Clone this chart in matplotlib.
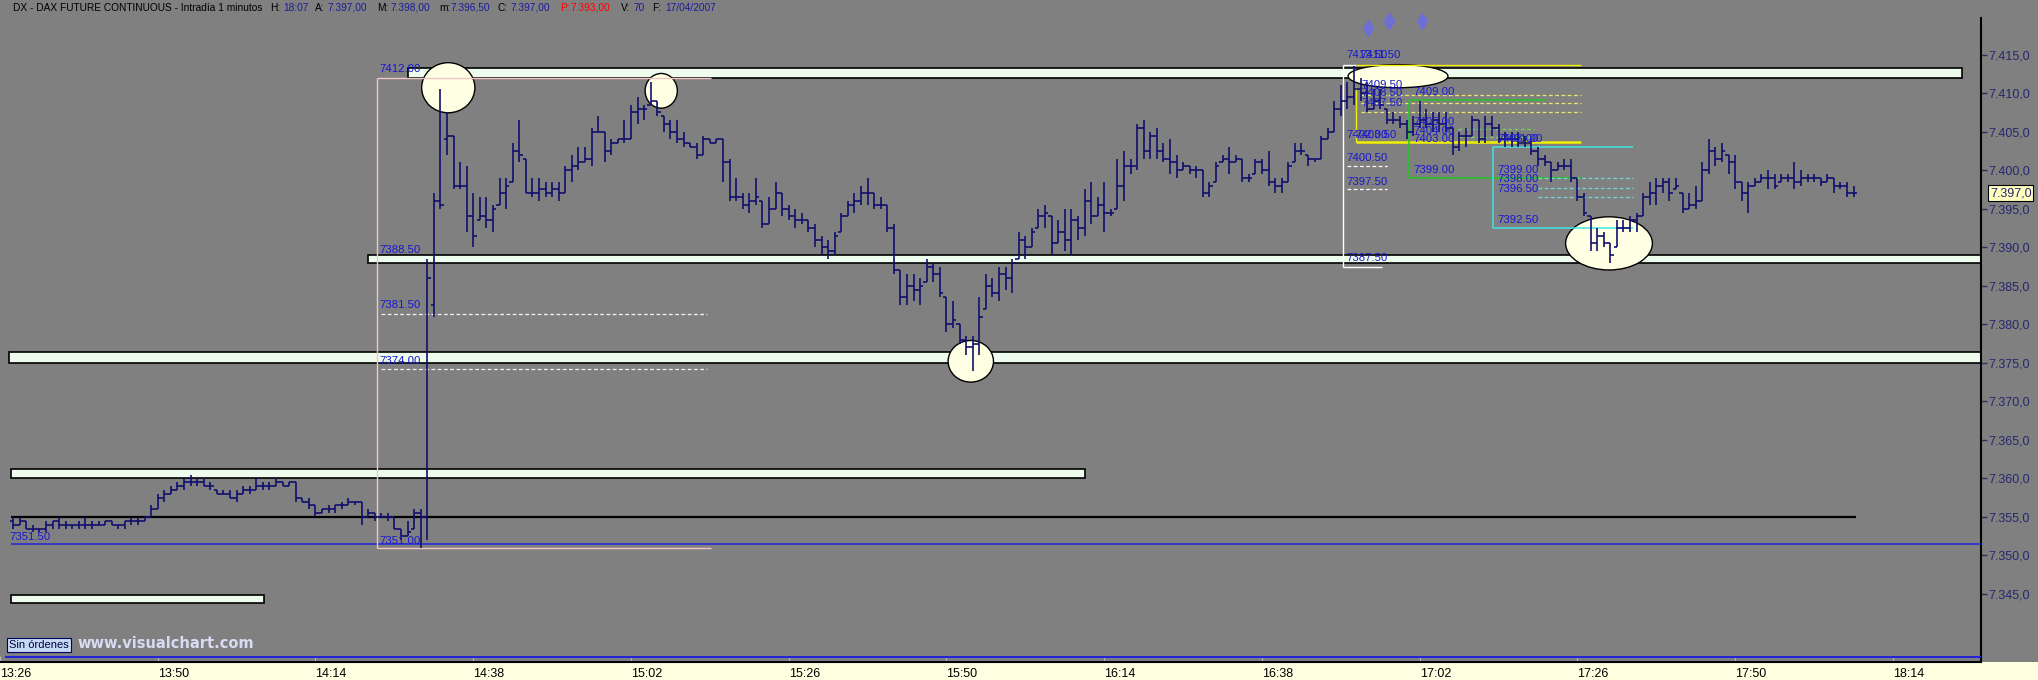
import numpy as np
import matplotlib
matplotlib.use("Agg")
import matplotlib.pyplot as plt
from matplotlib.patches import Rectangle, Ellipse
from matplotlib import font_manager
from matplotlib.ticker import FuncFormatter
from matplotlib.transforms import blended_transform_factory

# ---------------- DATA ----------------
SESSION_ORIGIN = "13:26"     # x = minutes after this time
BAR_START = "13:28"          # first 1-minute bar

OPEN = [
 7354.5,7354.0,7354.5,7353.5,7353.5,7353.5,7354.0,7354.5,7354.0,7354.0,
 7354.0,7354.0,7354.0,7354.0,7354.0,7354.5,7354.0,7354.0,7354.5,7354.5,
 7354.5,7355.0,7356.0,7357.5,7358.0,7358.5,7359.0,7359.5,7359.5,7359.5,
 7359.0,7358.5,7358.0,7358.0,7357.5,7358.0,7358.5,7358.5,7359.0,7359.0,
 7359.0,7359.5,7359.0,7359.5,7357.5,7357.0,7356.5,7355.5,7356.0,7356.0,
 7356.5,7356.5,7357.0,7357.0,7355.0,7355.5,7355.0,7355.0,7355.0,7353.5,
 7352.5,7353.5,7355.5,7355.0,7382.5,7396.0,7404.0,7404.5,7398.0,7398.0,
 7394.0,7393.5,7394.0,7393.5,7395.5,7397.0,7398.5,7402.5,7401.5,7397.0,
 7397.0,7397.5,7397.0,7397.5,7397.0,7400.0,7400.5,7401.0,7401.5,7405.0,
 7405.0,7402.5,7403.5,7404.0,7404.0,7407.5,7408.0,7408.5,7409.0,7407.0,
 7406.0,7405.0,7404.0,7403.5,7403.0,7402.0,7404.0,7403.5,7404.0,7401.0,
 7396.5,7396.5,7395.5,7396.0,7396.0,7393.0,7395.0,7397.0,7395.0,7394.0,
 7393.5,7393.5,7392.5,7391.0,7390.0,7389.5,7392.0,7394.0,7395.5,7396.0,
 7397.0,7397.0,7395.5,7395.5,7392.5,7387.0,7383.5,7385.0,7384.5,7385.5,
 7387.5,7386.5,7383.5,7380.0,7380.0,7378.0,7377.0,7377.5,7382.0,7385.0,
 7384.0,7386.5,7386.0,7388.5,7391.0,7390.0,7392.5,7394.0,7394.0,7390.5,
 7392.0,7391.0,7393.5,7392.5,7396.0,7394.0,7395.5,7394.5,7395.0,7398.0,
 7400.5,7400.5,7405.5,7402.5,7404.5,7402.5,7401.5,7401.0,7400.0,7400.5,
 7400.0,7400.0,7397.0,7398.5,7401.0,7401.5,7401.0,7401.5,7399.0,7399.5,
 7401.0,7400.0,7398.5,7398.0,7398.5,7401.0,7402.5,7402.0,7401.5,7401.5,
 7404.0,7405.0,7408.0,7409.0,7409.5,7410.5,7410.0,7408.0,7409.0,7408.0,
 7406.5,7406.5,7406.0,7405.0,7406.0,7406.5,7406.0,7406.5,7406.0,7405.5,
 7403.0,7404.5,7404.5,7406.5,7404.0,7406.0,7405.5,7404.0,7404.0,7404.0,
 7403.5,7403.5,7402.5,7401.5,7401.0,7400.0,7400.5,7400.5,7399.0,7396.5,
 7394.0,7390.5,7391.5,7390.5,7390.0,7392.5,7392.5,7393.5,7394.0,7396.5,
 7397.0,7398.0,7398.5,7397.5,7397.0,7395.0,7395.5,7396.0,7400.0,7402.5,
 7401.5,7402.0,7401.0,7398.5,7397.0,7398.0,7398.5,7399.0,7399.0,7398.5,
 7399.0,7399.0,7398.5,7399.0,7399.0,7399.0,7398.5,7399.0,7398.0,7398.0,7397.0]

HIGH = [
 7355.0,7355.0,7354.5,7354.0,7353.5,7354.5,7354.5,7355.0,7354.5,7354.0,
 7354.5,7355.0,7354.5,7354.5,7354.5,7354.5,7354.0,7354.5,7355.0,7355.0,
 7355.0,7356.5,7358.0,7358.5,7359.0,7359.5,7360.0,7360.5,7360.0,7360.0,
 7359.5,7358.5,7358.5,7358.5,7358.5,7359.0,7359.0,7360.0,7359.5,7359.5,
 7360.0,7359.5,7359.5,7359.5,7357.5,7357.5,7356.5,7356.0,7356.5,7356.5,
 7357.0,7357.5,7357.0,7357.0,7356.0,7355.5,7355.5,7355.5,7355.0,7353.5,
 7354.5,7356.0,7356.0,7388.5,7397.0,7410.5,7407.5,7404.5,7401.0,7400.5,
 7397.0,7396.5,7396.5,7395.5,7399.0,7399.0,7403.5,7406.5,7401.5,7399.0,
 7399.0,7398.5,7398.5,7398.5,7400.5,7402.0,7403.0,7403.0,7405.5,7407.0,
 7405.0,7404.0,7404.0,7406.5,7408.5,7409.5,7408.5,7411.5,7409.0,7407.0,
 7406.5,7406.5,7405.0,7403.5,7403.5,7404.5,7404.0,7404.0,7404.0,7401.5,
 7399.0,7397.0,7397.0,7399.0,7396.0,7396.5,7398.5,7397.0,7395.5,7395.0,
 7394.5,7393.5,7393.0,7391.5,7391.0,7392.0,7394.5,7396.0,7397.0,7398.0,
 7399.0,7397.0,7396.5,7395.5,7393.0,7387.0,7386.5,7386.5,7386.0,7388.5,
 7388.0,7387.5,7383.5,7383.0,7380.0,7378.5,7378.5,7383.5,7386.5,7386.0,
 7387.5,7387.5,7388.5,7392.0,7391.5,7392.5,7395.0,7395.5,7394.0,7393.5,
 7395.0,7395.0,7394.0,7397.5,7398.5,7396.5,7398.5,7395.0,7401.5,7402.5,
 7401.5,7406.0,7406.5,7405.0,7405.5,7403.5,7404.0,7402.0,7401.0,7400.5,
 7400.5,7400.0,7398.5,7401.0,7402.0,7403.0,7402.0,7401.5,7399.5,7401.5,
 7401.5,7402.5,7399.0,7399.0,7401.0,7403.5,7403.5,7402.0,7401.5,7404.5,
 7405.5,7409.0,7411.0,7411.5,7413.5,7412.0,7411.5,7410.5,7410.5,7408.0,
 7407.5,7407.0,7406.5,7407.0,7409.0,7408.0,7407.5,7407.5,7407.5,7405.5,
 7405.0,7405.5,7407.0,7406.5,7407.0,7407.0,7406.0,7405.0,7405.0,7405.0,
 7404.5,7404.0,7403.0,7402.0,7401.0,7401.0,7401.5,7401.5,7399.0,7397.0,
 7394.0,7392.5,7392.0,7390.5,7393.5,7393.5,7394.0,7394.5,7397.0,7398.5,
 7399.0,7399.0,7399.0,7399.0,7397.0,7397.0,7398.0,7401.0,7404.0,7403.0,
 7403.5,7402.0,7402.0,7398.5,7398.5,7399.0,7399.5,7400.0,7399.5,7399.5,
 7399.5,7401.0,7400.0,7399.5,7399.5,7399.0,7399.5,7399.0,7398.5,7398.5,7398.0]

LOW = [
 7353.5,7354.0,7353.5,7353.0,7353.0,7353.0,7353.5,7353.5,7353.5,7353.5,
 7353.5,7353.5,7353.5,7354.0,7354.0,7354.0,7353.5,7353.5,7354.0,7354.0,
 7354.5,7355.0,7356.0,7357.0,7358.0,7358.5,7358.5,7359.0,7359.0,7359.0,
 7358.5,7358.0,7358.0,7357.5,7357.0,7358.0,7358.0,7358.5,7358.5,7358.5,
 7359.0,7359.0,7359.0,7357.0,7357.0,7356.0,7355.0,7355.5,7355.5,7355.5,
 7356.0,7356.5,7356.5,7354.0,7355.0,7354.5,7355.0,7354.5,7353.5,7352.0,
 7352.5,7353.5,7351.0,7352.0,7381.0,7395.0,7402.0,7397.5,7397.5,7392.0,
 7390.0,7393.5,7392.5,7392.0,7395.5,7395.0,7398.5,7401.0,7397.0,7396.5,
 7396.0,7396.5,7396.5,7396.0,7397.0,7398.5,7400.0,7401.0,7400.5,7405.0,
 7401.0,7402.0,7403.5,7403.5,7404.0,7406.0,7406.5,7408.5,7407.0,7405.0,
 7404.0,7403.5,7403.0,7403.0,7401.5,7402.0,7403.5,7403.5,7398.5,7396.0,
 7396.0,7395.0,7394.5,7395.5,7392.5,7393.0,7395.0,7394.0,7393.5,7392.5,
 7393.0,7392.0,7390.0,7389.0,7388.5,7389.0,7392.0,7394.0,7394.5,7395.5,
 7395.5,7395.0,7395.0,7392.0,7386.5,7382.5,7382.5,7383.0,7382.5,7385.5,
 7385.5,7383.5,7379.0,7379.5,7377.5,7376.0,7374.0,7376.0,7382.0,7383.5,
 7383.0,7384.5,7384.0,7388.5,7388.5,7390.0,7392.5,7392.5,7389.0,7390.5,
 7389.5,7389.0,7391.0,7391.5,7393.0,7394.0,7392.0,7394.0,7395.0,7396.0,
 7399.5,7400.0,7401.5,7401.5,7401.5,7401.0,7399.5,7399.0,7400.0,7399.5,
 7399.0,7396.5,7396.5,7398.5,7401.0,7399.5,7401.0,7398.5,7398.5,7399.5,
 7399.5,7398.0,7397.0,7397.0,7398.5,7401.0,7402.0,7400.5,7401.0,7401.5,
 7404.0,7405.0,7407.0,7408.0,7408.5,7409.0,7407.5,7408.0,7408.0,7406.0,
 7406.0,7405.5,7404.0,7404.5,7405.5,7405.5,7405.0,7405.0,7405.0,7402.0,
 7402.5,7403.0,7404.5,7403.5,7403.5,7404.5,7403.5,7403.0,7403.0,7403.0,
 7403.0,7402.0,7400.5,7400.5,7398.5,7400.0,7400.0,7398.5,7396.0,7394.0,
 7389.5,7389.5,7390.0,7388.0,7390.0,7392.0,7392.0,7392.0,7394.0,7395.5,
 7395.5,7397.0,7396.0,7397.5,7394.5,7395.0,7395.0,7396.0,7399.5,7400.5,
 7401.0,7399.5,7397.5,7396.0,7394.5,7398.0,7398.5,7397.5,7397.5,7398.5,
 7398.5,7397.5,7398.0,7398.5,7398.5,7398.0,7398.5,7397.0,7397.5,7396.5,7396.5]

CLOSE = [
 7354.0,7354.5,7353.5,7353.5,7353.5,7354.0,7354.5,7354.0,7354.0,7354.0,
 7354.0,7354.0,7354.0,7354.0,7354.5,7354.0,7354.0,7354.5,7354.5,7354.5,
 7355.0,7356.0,7357.5,7358.0,7358.5,7359.0,7359.5,7359.5,7359.5,7359.0,
 7359.0,7358.0,7358.0,7357.5,7358.0,7358.5,7358.5,7359.0,7359.0,7359.0,
 7359.5,7359.0,7359.5,7357.5,7357.0,7356.5,7355.5,7356.0,7356.0,7356.5,
 7356.5,7357.0,7357.0,7355.0,7355.5,7355.0,7355.0,7355.0,7353.5,7352.5,
 7353.0,7355.5,7355.0,7386.0,7396.0,7395.5,7404.5,7398.0,7398.0,7394.0,
 7391.5,7394.0,7393.5,7395.0,7397.0,7398.0,7402.5,7402.0,7397.0,7397.0,
 7397.5,7397.0,7397.5,7397.0,7400.0,7400.5,7401.0,7401.5,7405.0,7405.0,
 7402.5,7403.5,7404.0,7404.0,7407.5,7408.0,7408.0,7409.0,7407.5,7406.0,
 7405.0,7404.0,7403.5,7403.0,7402.0,7404.0,7403.5,7404.0,7401.0,7396.5,
 7396.5,7395.5,7396.0,7396.5,7393.0,7395.0,7397.0,7395.0,7394.0,7393.5,
 7393.5,7392.5,7391.0,7390.0,7389.5,7391.5,7394.0,7395.5,7396.0,7397.0,
 7397.0,7395.5,7395.5,7392.5,7387.0,7383.5,7385.0,7384.5,7385.0,7387.5,
 7386.5,7384.0,7380.0,7380.5,7378.0,7377.0,7377.5,7381.0,7385.0,7384.0,
 7386.5,7386.0,7388.0,7391.0,7390.0,7392.0,7394.0,7394.5,7390.5,7392.0,
 7391.0,7393.5,7392.5,7396.0,7394.0,7395.5,7394.5,7394.5,7398.0,7400.5,
 7400.5,7405.5,7402.5,7404.5,7402.5,7401.5,7401.0,7400.0,7400.5,7400.0,
 7400.0,7397.0,7398.0,7400.5,7401.5,7401.0,7401.5,7399.0,7399.0,7401.0,
 7400.0,7398.5,7398.0,7398.5,7400.5,7402.5,7402.5,7401.5,7401.5,7404.0,
 7405.0,7408.0,7409.0,7409.5,7410.5,7410.0,7408.0,7409.0,7408.5,7406.5,
 7406.5,7406.0,7405.0,7406.0,7406.5,7406.0,7406.5,7406.0,7405.5,7403.0,
 7404.5,7404.5,7406.5,7404.0,7406.0,7405.5,7404.0,7404.0,7404.0,7403.5,
 7403.5,7402.5,7401.5,7401.0,7400.0,7400.5,7400.5,7399.0,7396.5,7394.5,
 7390.5,7391.5,7390.5,7389.0,7392.5,7392.5,7393.5,7394.0,7396.5,7397.0,
 7398.0,7398.5,7397.0,7398.0,7395.0,7395.5,7396.0,7400.0,7402.5,7401.5,
 7402.5,7401.0,7398.5,7397.0,7398.0,7398.5,7399.0,7399.0,7398.0,7399.0,
 7399.0,7398.5,7399.0,7399.0,7399.0,7398.5,7399.0,7398.0,7398.0,7397.0,7397.0]

XTICK_LABELS = ["13:26", "13:50", "14:14", "14:38", "15:02", "15:26", "15:50",
                "16:14", "16:38", "17:02", "17:26", "17:50", "18:14"]
YTICKS = [7345, 7350, 7355, 7360, 7365, 7370, 7375, 7380, 7385, 7390,
          7395, 7400, 7405, 7410, 7415]
LAST_PRICE = 7397.0

# support/resistance zones: (start min, end min or None = to right edge, low, high)
ZONES = [(62.0, 298.5, 7412.0, 7413.2),
         (56.0, None, 7388.0, 7389.0),
         (1.4, None, 7375.0, 7376.4),
         (1.6, 165.1, 7360.0, 7361.2),
         (1.6, 40.1, 7343.8, 7344.9)]
# highlighted spots: (minute, price, width in min, height in points)
SPOTS = [(68.2, 7410.7, 8.1, 6.5),
         (100.6, 7410.3, 4.9, 4.5),
         (147.7, 7375.2, 6.9, 5.4),
         (212.7, 7412.2, 15.2, 3.0),
         (244.8, 7390.5, 13.2, 6.9)]
BLACK_LEVEL = (1.6, 282.4, 7355.0)
BLUE_LEVEL = (1.6, 7351.5)
BOTTOM_LEVEL = 7336.8

# retracement boxes (horizontal: x0, x1, price ; vertical: x, p0, p1)
PINK_H = [(57.4, 108.2, 7412.0), (57.4, 108.2, 7351.0)]
PINK_V = [(57.4, 7351.0, 7412.0)]
WHITE_DASH_L = [(58.0, 107.5, 7381.4), (58.0, 107.5, 7374.2)]
WHITE_H = [(204.4, 206.3, 7413.6), (204.4, 210.2, 7387.5)]
WHITE_V = [(204.4, 7387.5, 7413.6)]
WHITE_DASH_R = [(205.0, 211.0, 7400.5), (205.0, 211.0, 7397.5)]
YELLOW_H = [(206.3, 240.6, 7413.6), (206.3, 240.5, 7403.6)]
YELLOW_V = [(206.3, 7403.6, 7410.8)]
YELLOW_DASH = [(207.0, 240.5, 7409.8), (207.0, 240.5, 7408.7), (207.0, 240.5, 7407.5)]
GREEN_H = [(214.4, 235.0, 7409.1), (214.4, 240.5, 7399.0)]
GREEN_V = [(214.4, 7399.0, 7409.1)]
GREEN_DASH = [(221.8, 233.4, 7405.4), (221.8, 233.4, 7404.3)]
CYAN_H = [(227.2, 248.4, 7403.0), (227.2, 248.4, 7392.5)]
CYAN_V = [(227.2, 7392.5, 7403.0)]
CYAN_DASH = [(234.0, 248.4, 7399.0), (234.0, 248.4, 7397.7), (234.0, 248.4, 7396.5)]

# level captions: (minute, price, text)
LEVEL_TEXTS = [(57.7, 7413.1, "7412.00"), (57.7, 7389.7, "7388.50"),
               (57.7, 7382.5, "7381.50"), (57.7, 7375.3, "7374.00"),
               (57.7, 7351.9, "7351.00"), (1.5, 7352.4, "7351.50"),
               (204.9, 7414.9, "7413.50"), (207.0, 7414.9, "7411.50"),
               (207.2, 7411.1, "7409.50"), (207.2, 7410.0, "7408.50"),
               (207.2, 7408.7, "7407.50"), (215.0, 7410.2, "7409.00"),
               (215.0, 7406.3, "7405.00"), (215.0, 7405.1, "7404.00"),
               (215.0, 7404.0, "7403.00"), (204.9, 7404.6, "7402.00"),
               (206.2, 7404.6, "7403.50"), (204.9, 7401.6, "7400.50"),
               (204.9, 7398.5, "7397.50"), (204.9, 7388.6, "7387.50"),
               (215.0, 7400.0, "7399.00"), (227.9, 7404.1, "7403.00"),
               (228.5, 7404.1, "7401.00"), (227.9, 7400.0, "7399.00"),
               (227.9, 7398.8, "7398.00"), (227.9, 7397.6, "7396.50"),
               (227.9, 7393.6, "7392.50")]
SIGNALS = [(208.1, 7418.4), (211.4, 7419.3), (216.3, 7419.3)]

HEADER = [(13, "DX - DAX FUTURE CONTINUOUS - Intradía 1 minutos", "k"),
          (270, "H:", "k"), (283, "18:07", "b"),
          (315, "A:", "k"), (328, "7.397,00", "b"),
          (377, "M:", "k"), (391, "7.398,00", "b"),
          (439, "m:", "k"), (451, "7.396,50", "b"),
          (498, "C:", "k"), (511, "7.397,00", "b"),
          (560, "P:", "r"), (571, "7.393,00", "r"),
          (621, "V:", "k"), (634, "70", "b"),
          (652, "F:", "k"), (665, "17/04/2007", "b")]

# ---------------- STYLE / LAYOUT ----------------
W, H = 2038, 680
AX_RIGHT_PX, AX_BOTTOM_PX, AX_TOP_PX = 1981, 662, 18
PX_PER_MIN, X0_PX = 6.59, -5.2
PX_PER_PT, Y7415_PX = 7.706, 54.6

avail = {f.name for f in font_manager.fontManager.ttflist}
NARROW = "Liberation Sans Narrow" if "Liberation Sans Narrow" in avail else "Liberation Sans"
plt.rcParams["font.family"] = [NARROW, "DejaVu Sans"]

BG = "#808080"
BAR = "#10106e"
TXT_BLUE = "#1818d0"

def to_min(hhmm):
    h, m = hhmm.split(":")
    oh, om = SESSION_ORIGIN.split(":")
    return (int(h) * 60 + int(m)) - (int(oh) * 60 + int(om))

fig = plt.figure(figsize=(W / 100, H / 100), dpi=100)
fig.patch.set_facecolor(BG)
ax = fig.add_axes([0, (H - AX_BOTTOM_PX) / H, AX_RIGHT_PX / W,
                   (AX_BOTTOM_PX - AX_TOP_PX) / H])
ax.set_facecolor(BG)

xmin = (0 - X0_PX) / PX_PER_MIN
xmax = (AX_RIGHT_PX - X0_PX) / PX_PER_MIN
ymin = 7415 - (AX_BOTTOM_PX - Y7415_PX) / PX_PER_PT
ymax = 7415 + (Y7415_PX - AX_TOP_PX) / PX_PER_PT
ax.set_xlim(xmin, xmax)
ax.set_ylim(ymin, ymax)

# zones
for x0, x1, lo, hi in ZONES:
    x1 = xmax + 1 if x1 is None else x1
    ax.add_patch(Rectangle((x0, lo), x1 - x0, hi - lo, facecolor="#EEFCEE",
                           edgecolor="black", lw=1.2, zorder=2))

# spots
for cx, cy, w, h in SPOTS:
    ax.add_patch(Ellipse((cx, cy), w, h, facecolor="#FFFFE4", edgecolor="black",
                         lw=1.0, zorder=3))

# levels
ax.hlines(BLACK_LEVEL[2], BLACK_LEVEL[0], BLACK_LEVEL[1], color="black", lw=1.6, zorder=4)
ax.hlines(BLUE_LEVEL[1], BLUE_LEVEL[0], xmax + 1, color="#2424d8", lw=1.1, zorder=4)
ax.hlines(BOTTOM_LEVEL, xmin, xmax + 1, color="#2424d8", lw=1.5, zorder=4)

def segs(hlist, vlist, color, lw=1.0, ls="-"):
    for x0, x1, p in hlist:
        ax.hlines(p, x0, x1, color=color, lw=lw, linestyles=ls, zorder=4)
    for x, p0, p1 in vlist:
        ax.vlines(x, p0, p1, color=color, lw=lw, linestyles=ls, zorder=4)

segs(PINK_H, PINK_V, "#F2C4C4", 1.0)
segs(WHITE_DASH_L, [], "#F4F4F4", 0.9, (0, (3, 2)))
segs(WHITE_H, WHITE_V, "white", 1.0)
segs(WHITE_DASH_R, [], "white", 0.9, (0, (3, 2)))
segs(YELLOW_H[:1], YELLOW_V, "#F0F000", 1.0)
segs(YELLOW_H[1:], [], "#F0F000", 1.8)
segs(YELLOW_DASH, [], "#E8E870", 0.9, (0, (3, 2)))
segs(GREEN_H, GREEN_V, "#22C822", 1.1)
segs(GREEN_DASH, [], "#70D070", 0.9, (0, (3, 2)))
segs(CYAN_H, CYAN_V, "#40E4E4", 1.1)
segs(CYAN_DASH, [], "#70D8D8", 0.9, (0, (3, 2)))

# OHLC bars
x = to_min(BAR_START) + np.arange(len(CLOSE))
assert len(OPEN) == len(HIGH) == len(LOW) == len(CLOSE)
ax.vlines(x, LOW, HIGH, color=BAR, lw=1.2, zorder=5)
ax.hlines(OPEN, x - 0.5, x, color=BAR, lw=1.2, zorder=5)
ax.hlines(CLOSE, x, x + 0.5, color=BAR, lw=1.2, zorder=5)

for mx, p, t in LEVEL_TEXTS:
    ax.text(mx, p, t, color=TXT_BLUE, fontsize=8.2, ha="left", va="center", zorder=6)

ax.plot([s[0] for s in SIGNALS], [s[1] for s in SIGNALS], "d", ms=8,
        color="#6a6af0", alpha=0.75, zorder=6, clip_on=False)

# axes styling
for s in ("top", "left"):
    ax.spines[s].set_visible(False)
ax.spines["right"].set_color("black"); ax.spines["right"].set_linewidth(1.5)
ax.spines["bottom"].set_color("black"); ax.spines["bottom"].set_linewidth(1.5)

ax.yaxis.tick_right()
ax.set_yticks(YTICKS)
ax.yaxis.set_major_formatter(FuncFormatter(
    lambda v, _: f"{v:,.1f}".replace(",", "X").replace(".", ",").replace("X", ".")))
ax.tick_params(axis="y", length=4, width=1, color="#303060", pad=1.5,
               labelsize=9, labelcolor="#26266e")

ax.set_xticks([to_min(t) for t in XTICK_LABELS])
ax.set_xticklabels(XTICK_LABELS)
ax.tick_params(axis="x", direction="in", length=4, color="#b8b8b8", pad=4,
               labelsize=9, labelcolor="black")
for lab in ax.get_xticklabels():
    lab.set_ha("left")

# last price box on the scale
tr = blended_transform_factory(ax.transAxes, ax.transData)
ax.text(1.0045, LAST_PRICE, "7.397,0", transform=tr, fontsize=9, color="#26266e",
        ha="left", va="center", zorder=7,
        bbox=dict(boxstyle="square,pad=0.15", facecolor="#FFFFC0", edgecolor="black", lw=0.8))

# bottom strip
strip = Rectangle((0, 0), 1, (H - AX_BOTTOM_PX) / H, transform=fig.transFigure,
                  facecolor="#FFFFE1", edgecolor="none")
strip.set_zorder(-1)
fig.add_artist(strip)

# header
cmap = {"k": "black", "b": "#1c1c9c", "r": "#ff0000"}
for px, t, c in HEADER:
    fig.text(px / W, 1 - 8 / H, t, color=cmap[c], fontsize=7.3, ha="left", va="center")

fig.text(9 / W, 1 - 645 / H, "Sin órdenes", fontsize=8, color="#000040", ha="left",
         va="center", bbox=dict(boxstyle="square,pad=0.2", facecolor="#C4DAF4",
                                edgecolor="#000060", lw=0.8))
fig.text(77 / W, 1 - 644 / H, "www.visualchart.com", fontsize=10.5, fontweight="bold",
         family="DejaVu Sans", color="#DADAF2", ha="left", va="center")

fig.savefig("out.png", dpi=100, facecolor=BG)
